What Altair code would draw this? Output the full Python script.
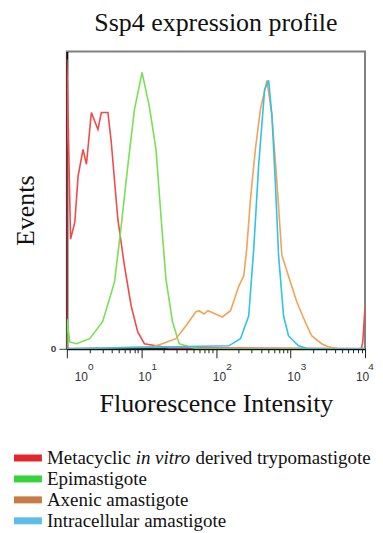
import altair as alt
import pandas as pd

# ---- data (x as log10 intensity, y as % of plot height) ----
series_names = ["Metacyclic", "Epimastigote", "Axenic", "Intracellular"]
line_colors = ["#f24a4a", "#78e052", "#f5a257", "#30c2ea"]

red_logx = [0.0, 0.0, 0.05, 0.107, 0.151, 0.217, 0.263, 0.329, 0.417, 0.463, 0.551, 0.596,
            0.684, 0.773, 0.863, 0.951, 1.04, 1.196, 1.37, 3.95, 3.97, 4.0]
red_y = [0.0, 97.3, 36.9, 42.6, 58.1, 67.1, 62.1, 79.5, 73.8, 79.5, 79.5, 69.5,
         43.6, 27.9, 14.4, 5.7, 1.7, 1.0, 0.3, 0.0, 2.3, 14.1]

green_logx = [0.0, 0.0, 0.04, 0.129, 0.307, 0.48, 0.64, 0.729, 0.817, 0.907, 1.009, 1.107,
              1.196, 1.263, 1.329, 1.417, 1.507, 1.64, 1.77, 4.0]
green_y = [0.0, 10.1, 2.3, 1.7, 3.4, 9.1, 22.5, 41.3, 61.4, 80.5, 93.0, 81.5,
           67.1, 44.6, 23.5, 9.1, 1.7, 0.7, 0.0, 0.0]

orange_logx = [0.0, 1.147, 1.28, 1.463, 1.596, 1.729, 1.773, 1.84, 1.893, 1.996, 2.084, 2.196,
               2.307, 2.373, 2.413, 2.463, 2.529, 2.596, 2.684, 2.751, 2.817, 2.884, 2.973,
               3.084, 3.196, 3.284, 3.417, 3.507, 3.64, 4.0]
orange_y = [0.0, 0.7, 1.7, 3.4, 7.7, 12.4, 12.8, 11.7, 12.8, 11.7, 10.7, 12.8,
            21.1, 24.5, 33.6, 50.3, 67.1, 80.5, 90.3, 78.5, 56.4, 31.5, 24.5,
            15.8, 9.1, 4.4, 1.7, 0.7, 0.0, 0.0]

blue_logx = [0.0, 2.173, 2.329, 2.44, 2.507, 2.573, 2.653, 2.707, 2.751, 2.796, 2.84, 2.907,
             2.973, 3.107, 3.24, 4.0]
blue_y = [0.0, 1.0, 3.4, 11.1, 33.6, 61.7, 87.2, 90.3, 78.5, 56.4, 31.5, 11.1,
          4.4, 1.0, 0.0, 0.0]

legend_labels = ["Metacyclic in vitro derived trypomastigote", "Epimastigote",
                 "Axenic amastigote", "Intracellular amastigote"]
legend_colors = ["#e2262e", "#36d43c", "#c87b44", "#5bbde8"]

major_ticks = [1, 10, 100, 1000, 10000]
major_base = "10"
major_exps = ["0", "1", "2", "3", "4"]

W, H = 299, 298

# ---- tables ----
rows = []
for name, xs, ys in zip(series_names, [red_logx, green_logx, orange_logx, blue_logx],
                        [red_y, green_y, orange_y, blue_y]):
    for i, (lx, yv) in enumerate(zip(xs, ys)):
        rows.append({"series": name, "idx": i, "x": 10 ** lx, "y": yv})
df = pd.DataFrame(rows)

exp_df = pd.DataFrame({"x": major_ticks, "exp": major_exps,
                       "pos": ["first", "mid", "mid", "mid", "last"]})

tick_vals = sorted(set([k * 10 ** d for d in range(4) for k in range(1, 10)] + [10000]))
major_test = "indexof([1,10,100,1000,10000], datum.value) >= 0"
label_expr = f"{major_test} ? '{major_base}' : ''"

serif = "Liberation Serif"
xscale = alt.Scale(type="log", domain=[1, 10000])

lines = alt.Chart(df).mark_line(strokeWidth=1.6, clip=True).encode(
    x=alt.X("x:Q", scale=xscale,
            axis=alt.Axis(values=tick_vals, labelExpr=label_expr,
                          tickSize={"condition": {"test": major_test, "value": 9}, "value": 4},
                          labelOffset={"condition": [
                              {"test": "datum.value == 1", "value": 14},
                              {"test": "datum.value == 10000", "value": -3}],
                              "value": 3},
                          labelFlush=False, labelOverlap=False,
                          labelFont="Liberation Sans", labelFontSize=12, labelColor="#333",
                          labelPadding=14,
                          tickColor="#222", tickWidth=1,
                          domainColor="#111", domainWidth=2,
                          title="Fluorescence Intensity", titleFont=serif, titleFontSize=26,
                          titleFontWeight="normal", titleColor="#111", titlePadding=8,
                          grid=False)),
    y=alt.Y("y:Q",
            scale=alt.Scale(domain=[0, 100]),
            axis=alt.Axis(values=[0], labelFont="Liberation Sans", labelFontSize=10,
                          labelFontWeight="bold", labelColor="#444",
                          tickSize=8, tickColor="#444", labelPadding=3,
                          domainColor="#111", domainWidth=2,
                          title="Events", titleFont=serif, titleFontSize=26,
                          titleFontWeight="normal", titleColor="#111", titlePadding=12,
                          titleY=H / 2 + 10,
                          grid=False)),
    color=alt.Color("series:N", scale=alt.Scale(domain=series_names, range=line_colors),
                    legend=None),
    order=alt.Order("idx:Q"),
)

# exponents of the tick labels (10^k), placed just right of each "10"
def exp_layer(pos, dx):
    return alt.Chart(exp_df).transform_filter(f"datum.pos == '{pos}'").mark_text(
        align="center", baseline="top", font="Liberation Sans", fontSize=10,
        color="#333", dx=dx, clip=False
    ).encode(x=alt.X("x:Q", scale=xscale), y=alt.value(H + 13), text="exp:N")

top = alt.layer(lines, exp_layer("first", 24), exp_layer("mid", 13), exp_layer("last", 6)).properties(
    width=W, height=H,
    view=alt.ViewBackground(stroke="#808080", strokeWidth=2),
    title=alt.TitleParams("Ssp4 expression profile", font=serif, fontSize=26,
                          fontWeight="normal", color="#111", anchor="middle",
                          frame="group", baseline="top", offset=16),
)

# ---- hand-built legend (to allow the italic "in vitro") ----
leg_df = pd.DataFrame({"label": legend_labels})
text_df = pd.DataFrame({
    "label": [legend_labels[0], legend_labels[0], legend_labels[0]] + legend_labels[1:],
    "text": ["Metacyclic", "in vitro", "derived trypomastigote"] + legend_labels[1:],
    "part": ["a", "b", "c", "a", "a", "a"],
})

ly = alt.Y("label:N", sort=legend_labels, axis=None)
swatches = alt.Chart(leg_df).mark_bar(size=7).encode(
    y=ly, x=alt.value(-53), x2=alt.value(-25),
    color=alt.Color("label:N", scale=alt.Scale(domain=legend_labels, range=legend_colors),
                    legend=None),
)
base_txt = alt.Chart(text_df)
txt_a = base_txt.transform_filter("datum.part == 'a'").mark_text(
    align="left", baseline="middle", font=serif, fontSize=19, color="#111"
).encode(y=ly, x=alt.value(-20), text="text:N")
txt_b = base_txt.transform_filter("datum.part == 'b'").mark_text(
    align="left", baseline="middle", font=serif, fontSize=19, fontStyle="italic",
    color="#111", dx=89
).encode(y=ly, x=alt.value(-20), text="text:N")
txt_c = base_txt.transform_filter("datum.part == 'c'").mark_text(
    align="left", baseline="middle", font=serif, fontSize=19, color="#111", dx=149
).encode(y=ly, x=alt.value(-20), text="text:N")

legend = alt.layer(swatches, txt_a, txt_b, txt_c).properties(
    width=W, height=84, view=alt.ViewBackground(stroke=None))

chart = alt.vconcat(top, legend, spacing=30).resolve_scale(
    color="independent"
).properties(
    padding={"left": 3, "top": 0, "right": 0, "bottom": 0}
)

chart.save("out.html", embed_options={"renderer": "svg", "actions": False})
